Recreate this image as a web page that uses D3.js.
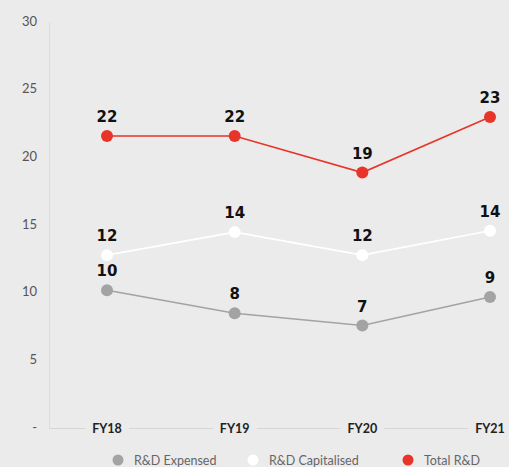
<!DOCTYPE html>
<html><head><meta charset="utf-8">
<script src="https://cdn.jsdelivr.net/npm/d3@7"></script>
<style>body{margin:0;background:#ebebeb;}svg{display:block;}</style>
</head><body>
<svg id="c" width="509" height="467"></svg>
<script>
const categories = ["FY18","FY19","FY20","FY21"];
const expensed = [10.1, 8.4, 7.5, 9.6];
const capitalised = [12.7, 14.4, 12.7, 14.5];
const total = [21.5, 21.5, 18.8, 22.9];
const expensedLabels = ["10","8","7","9"];
const capitalisedLabels = ["12","14","12","14"];
const totalLabels = ["22","22","19","23"];
const yTicks = [0,5,10,15,20,25,30];
const yTickLabels = ["-","5","10","15","20","25","30"];
const seriesNames = ["R&D Expensed","R&D Capitalised","Total R&D"];

const svg = d3.select("#c");
const font = "Lato, 'Open Sans', sans-serif";
const x = d3.scalePoint().domain(categories).range([107, 490]);
const y = d3.scaleLinear().domain([0,30]).range([427, 21]);

// axes lines
svg.append("line").attr("x1",49.5).attr("x2",49.5).attr("y1",y(29.9)).attr("y2",428.5)
  .attr("stroke","#dcdcdc").attr("stroke-width",1);
svg.append("line").attr("x1",49.5).attr("x2",509).attr("y1",428.5).attr("y2",428.5)
  .attr("stroke","#d6d6d6").attr("stroke-width",1);

// y tick labels
svg.selectAll("text.yt").data(yTicks).join("text").attr("class","yt")
  .attr("x",37).attr("y",d=>y(d)+4.5).attr("text-anchor","end")
  .attr("font-family",font).attr("font-size",13).attr("fill","#555")
  .text((d,i)=>yTickLabels[i]);

// x labels with background
const xl = svg.selectAll("g.xl").data(categories).join("g").attr("class","xl")
  .attr("transform",d=>`translate(${x(d)},428)`);
xl.append("rect").attr("x",-22).attr("y",-6).attr("width",44).attr("height",12).attr("fill","#ebebeb");
xl.append("text").attr("y",5).attr("text-anchor","middle")
  .attr("font-family",font).attr("font-weight","bold").attr("font-size",12.5).attr("fill","#222")
  .text(d=>d);

const series = [
  {vals: expensed, labels: expensedLabels, color:"#a3a3a3"},
  {vals: capitalised, labels: capitalisedLabels, color:"#ffffff"},
  {vals: total, labels: totalLabels, color:"#e8352a"}
];
const line = d3.line().x((d,i)=>x(categories[i])).y(d=>y(d));
series.forEach(s=>{
  svg.append("path").datum(s.vals).attr("d",line).attr("fill","none")
    .attr("stroke",s.color).attr("stroke-width",1.6);
  svg.selectAll(null).data(s.vals).join("circle")
    .attr("cx",(d,i)=>x(categories[i])).attr("cy",d=>y(d)).attr("r",6).attr("fill",s.color);
  svg.selectAll(null).data(s.vals).join("text")
    .attr("x",(d,i)=>x(categories[i])).attr("y",d=>y(d)-14).attr("text-anchor","middle")
    .attr("font-family","'DejaVu Sans', sans-serif").attr("font-weight","bold").attr("font-size",15).attr("fill","#111")
    .text((d,i)=>s.labels[i]);
});

// legend
const legX = [118, 253, 408];
const lg = svg.selectAll("g.lg").data(seriesNames).join("g").attr("class","lg")
  .attr("transform",(d,i)=>`translate(${legX[i]},460)`);
lg.append("circle").attr("r",5.5).attr("fill",(d,i)=>series[i].color);
lg.append("text").attr("x",16).attr("y",4.5).attr("font-family",font).attr("font-size",12.5)
  .attr("fill","#666").text(d=>d);
</script>
</body></html>
